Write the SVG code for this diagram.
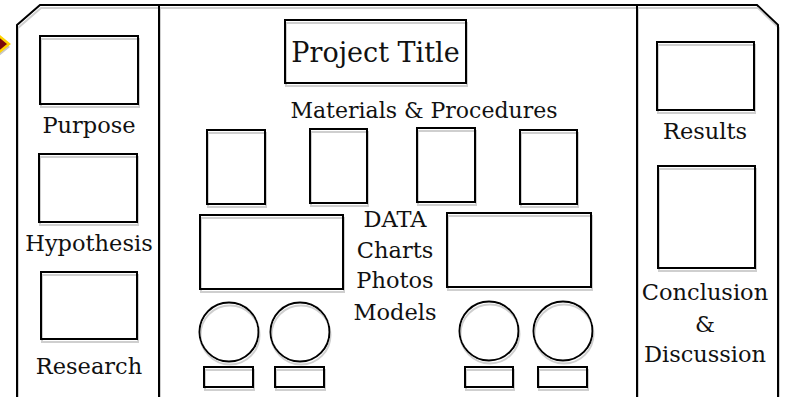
<svg xmlns="http://www.w3.org/2000/svg" width="785" height="397" viewBox="0 0 785 397">
  <defs>
    <!-- soft grey drop shadow cast by the outlined shapes -->
    <filter id="drop" x="-10%" y="-10%" width="120%" height="130%">
      <feOffset in="SourceAlpha" dx="1" dy="3" result="off"/>
      <feFlood flood-color="#cfcfcf"/>
      <feComposite in2="off" operator="in" result="shade"/>
      <feMerge>
        <feMergeNode in="shade"/>
        <feMergeNode in="SourceGraphic"/>
      </feMerge>
    </filter>
    <style>
      .ln { fill: none; stroke: #000; stroke-width: 2; }
      .sh { filter: url(#drop); }
      .lbl { font-family: "DejaVu Serif", "Liberation Serif", serif; font-size: 22.5px; fill: #111; text-anchor: middle; }
      .ttl { font-family: "DejaVu Serif", "Liberation Serif", serif; font-size: 27px; fill: #111; text-anchor: middle; }
    </style>
  </defs>

  <rect width="785" height="397" fill="#fff"/>

  <!-- tri-fold board outline with its two fold lines -->
  <g id="board" class="sh">
    <path class="ln" d="M17,400 L17,25 L40,5 L757,5 L778,25 L778,400"/>
    <line class="ln" x1="159" y1="5" x2="159" y2="400"/>
    <line class="ln" x1="637" y1="5" x2="637" y2="400"/>
  </g>

  <!-- pointer tab on the left edge -->
  <g id="pointer">
    <polygon points="-2,35 9,44 -2,53" fill="#c8c8c8" transform="translate(1,3)"/>
    <polygon points="-2,35 9,44 -2,53" fill="#7a0a0a" stroke="#ffd400" stroke-width="2.5" stroke-linejoin="miter"/>
  </g>

  <!-- left panel -->
  <g id="purpose">
    <rect class="ln sh" x="40" y="36" width="98" height="68"/>
    <text class="lbl" x="89" y="133">Purpose</text>
  </g>
  <g id="hypothesis">
    <rect class="ln sh" x="39" y="154" width="98" height="68"/>
    <text class="lbl" x="89" y="251">Hypothesis</text>
  </g>
  <g id="research">
    <rect class="ln sh" x="41" y="272" width="96" height="67"/>
    <text class="lbl" x="89" y="374">Research</text>
  </g>

  <!-- centre panel -->
  <g id="title">
    <rect class="ln sh" x="285" y="20" width="181" height="63"/>
    <text class="ttl" x="375.5" y="62">Project Title</text>
  </g>

  <g id="materials">
    <text class="lbl" x="424" y="118" style="font-size:22px">Materials &amp; Procedures</text>
    <g class="sh">
      <rect class="ln" x="207" y="130" width="58" height="74"/>
      <rect class="ln" x="310" y="129" width="57" height="74"/>
      <rect class="ln" x="417" y="128" width="58" height="74"/>
      <rect class="ln" x="520" y="130" width="57" height="74"/>
    </g>
  </g>

  <g id="chart-left">
    <rect class="ln sh" x="200" y="215" width="143" height="74"/>
  </g>
  <g id="chart-right">
    <rect class="ln sh" x="447" y="213" width="144" height="74"/>
  </g>

  <g id="data">
    <text class="lbl" x="395" y="227">DATA</text>
    <text class="lbl" x="395" y="258">Charts</text>
    <text class="lbl" x="395" y="288">Photos</text>
    <text class="lbl" x="395" y="320">Models</text>
  </g>

  <g id="models-left" class="sh">
    <circle class="ln" cx="229" cy="332" r="29.5"/>
    <circle class="ln" cx="300" cy="332" r="29.5"/>
    <rect class="ln" x="204" y="367" width="49" height="20"/>
    <rect class="ln" x="275" y="367" width="49" height="20"/>
  </g>
  <g id="models-right" class="sh">
    <circle class="ln" cx="489" cy="331" r="29.5"/>
    <circle class="ln" cx="563" cy="331" r="29.5"/>
    <rect class="ln" x="465" y="367" width="48" height="20"/>
    <rect class="ln" x="538" y="367" width="49" height="20"/>
  </g>

  <!-- right panel -->
  <g id="results">
    <rect class="ln sh" x="657" y="42" width="97" height="68"/>
    <text class="lbl" x="705" y="139">Results</text>
  </g>
  <g id="conclusion">
    <rect class="ln sh" x="658" y="166" width="97" height="102"/>
    <text class="lbl" x="705" y="300">Conclusion</text>
    <text class="lbl" x="705" y="332">&amp;</text>
    <text class="lbl" x="705" y="362">Discussion</text>
  </g>
</svg>
